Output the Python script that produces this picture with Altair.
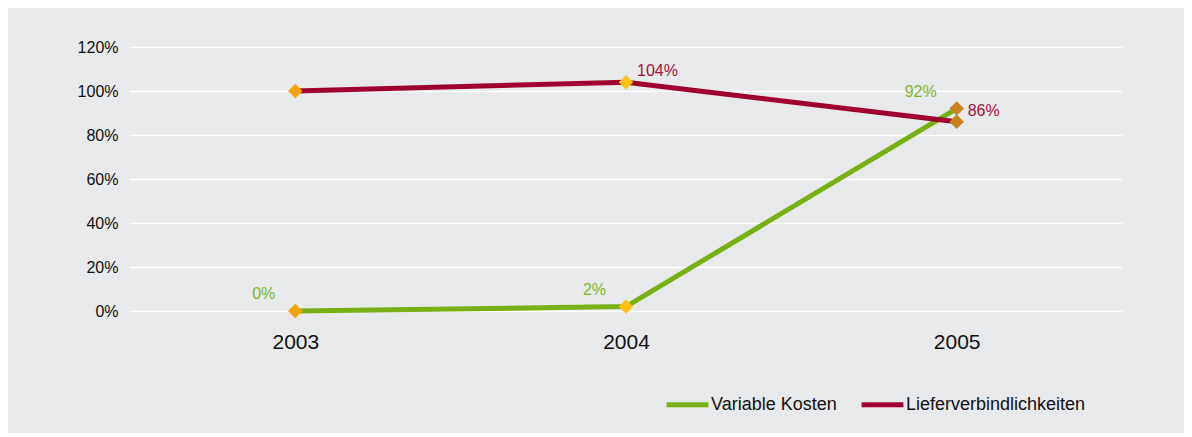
import altair as alt
import pandas as pd

years = ["2003", "2004", "2005"]
variable_kosten = [0.00, 0.02, 0.92]
lieferverbindlichkeiten = [1.00, 1.04, 0.86]
series_names = ["Variable Kosten", "Lieferverbindlichkeiten"]
red_label_years = ["2004", "2005"]
y_ticks = [0, 0.2, 0.4, 0.6, 0.8, 1.0, 1.2]

line_colors = ["#78B014", "#A0002F"]
label_colors = ["#7DB62A", "#A5103C"]
marker_colors = ["#F5A300", "#FFC20E", "#C8841C"]
FONT = "Liberation Sans, Arial, sans-serif"

rows = []
for i, y in enumerate(years):
    rows.append({"year": y, "series": series_names[0], "value": variable_kosten[i]})
for i, y in enumerate(years):
    rows.append({"year": y, "series": series_names[1], "value": lieferverbindlichkeiten[i]})
df = pd.DataFrame(rows)

x_enc = alt.X("year:N", sort=years, scale=alt.Scale(paddingInner=0, paddingOuter=0),
              axis=alt.Axis(title=None, labelAngle=0, labelFontSize=21, labelPadding=20,
                            labelColor="#111111", labelFont=FONT, domain=False, ticks=False,
                            grid=False))
y_enc = alt.Y("value:Q", scale=alt.Scale(domain=[0, 1.2], nice=False),
              axis=alt.Axis(title=None, values=y_ticks, format=".0%", labelFontSize=16,
                            labelPadding=12, labelColor="#111111", labelFont=FONT,
                            domain=False, ticks=False, grid=True, gridColor="#FFFFFF",
                            gridWidth=1.5))

base = alt.Chart(df)

lines = base.mark_line(strokeWidth=5, strokeCap="butt").encode(
    x=x_enc,
    y=y_enc,
    color=alt.Color("series:N", sort=series_names,
                    scale=alt.Scale(domain=series_names, range=line_colors),
                    legend=alt.Legend(title=None, orient="none", legendX=534, legendY=334,
                                      direction="horizontal", symbolType="stroke",
                                      symbolSize=1750, symbolStrokeWidth=5,
                                      labelFontSize=18, labelFont=FONT, labelColor="#111111",
                                      labelOffset=0, labelLimit=400, columnPadding=14)),
    order=alt.Order("year:N"),
)

markers = base.mark_point(shape="diamond", filled=True, size=210, opacity=1).encode(
    x=alt.X("year:N", sort=years),
    y=alt.Y("value:Q"),
    fill=alt.Fill("year:N", scale=alt.Scale(domain=years, range=marker_colors), legend=None),
)

green_labels = base.transform_filter(
    alt.datum.series == series_names[0]
).mark_text(align="right", baseline="middle", dx=-20, dy=-17, fontSize=16, font=FONT,
            color=label_colors[0]).encode(
    x=alt.X("year:N", sort=years),
    y=alt.Y("value:Q"),
    text=alt.Text("value:Q", format=".0%"),
)

red_labels = base.transform_filter(
    alt.FieldOneOfPredicate(field="series", oneOf=[series_names[1]])
).transform_filter(
    alt.FieldOneOfPredicate(field="year", oneOf=red_label_years)
).mark_text(align="left", baseline="middle", dx=11, dy=-11, fontSize=16, font=FONT,
            color=label_colors[1]).encode(
    x=alt.X("year:N", sort=years),
    y=alt.Y("value:Q"),
    text=alt.Text("value:Q", format=".0%"),
)

chart = alt.layer(lines, markers, green_labels, red_labels).properties(
    width=992, height=264,
    autosize=alt.AutoSizeParams(type="none"),
    padding={"left": 122, "top": 39, "right": 62, "bottom": 122},
    background="#E8E9EB",
).configure_view(stroke=None, fill="#E8E9EB")

chart.save("out.html", embed_options={"renderer": "svg", "actions": False})
